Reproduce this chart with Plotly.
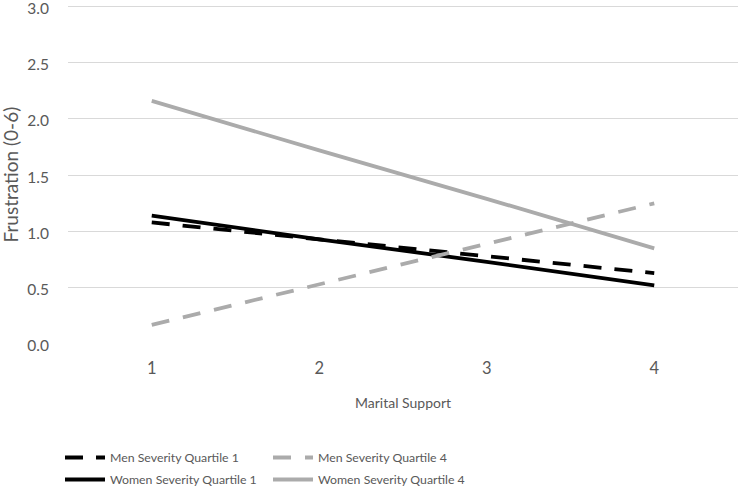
import plotly.graph_objects as go

x_vals = [1, 2, 3, 4]
x_labels = ["1", "2", "3", "4"]
men_q1 = [1.08, 0.93, 0.78, 0.63]
men_q4 = [0.17, 0.53, 0.89, 1.25]
women_q1 = [1.14, 0.93, 0.73, 0.52]
women_q4 = [2.16, 1.72, 1.29, 0.85]
y_ticks = [0.0, 0.5, 1.0, 1.5, 2.0, 2.5, 3.0]
y_tick_labels = ["0.0", "0.5", "1.0", "1.5", "2.0", "2.5", "3.0"]

BLACK = "#000000"
GRAY = "#ABABAB"
TXT = "#595959"
FONT = "Lato, 'Open Sans', sans-serif"

fig = go.Figure()
fig.add_trace(go.Scatter(x=x_vals, y=men_q1, mode="lines", name="Men Severity Quartile 1",
                         line=dict(color=BLACK, width=3.8, dash="18px,13px"), legend="legend",
                         legendgroup="a"))
fig.add_trace(go.Scatter(x=x_vals, y=women_q1, mode="lines", name="Women Severity Quartile 1",
                         line=dict(color=BLACK, width=3.8), legend="legend", legendgroup="b"))
fig.add_trace(go.Scatter(x=x_vals, y=men_q4, mode="lines", name="Men Severity Quartile 4",
                         line=dict(color=GRAY, width=3.8, dash="18px,14px"), legend="legend2",
                         legendgroup="c"))
fig.add_trace(go.Scatter(x=x_vals, y=women_q4, mode="lines", name="Women Severity Quartile 4",
                         line=dict(color=GRAY, width=3.8), legend="legend2", legendgroup="d"))

legend_common = dict(orientation="v", xref="container", yref="container", xanchor="left", yanchor="top",
                     font=dict(family=FONT, size=12.3, color=TXT), bgcolor="rgba(0,0,0,0)",
                     itemwidth=40, tracegroupgap=3)

fig.update_layout(
    width=740, height=486,
    margin=dict(l=68, r=2, t=5, b=142, autoexpand=False),
    paper_bgcolor="white", plot_bgcolor="white",
    font=dict(family=FONT, color=TXT),
    showlegend=True,
    legend=dict(x=60 / 740, y=1 - 443 / 486, **legend_common),
    legend2=dict(x=268 / 740, y=1 - 443 / 486, **legend_common),
    xaxis=dict(range=[0.5, 4.5], tickvals=x_vals, ticktext=x_labels, showgrid=False, zeroline=False,
               showline=False, ticks="outside", ticklen=9, tickcolor="rgba(0,0,0,0)",
               ticklabeloverflow="allow",
               tickfont=dict(family=FONT, size=16.5, color=TXT)),
    yaxis=dict(range=[0, 3.012], tickvals=y_ticks, ticktext=y_tick_labels, showgrid=True,
               gridcolor="#D9D9D9", gridwidth=1, zeroline=False, showline=False, ticks="outside",
               ticklen=15, tickcolor="rgba(0,0,0,0)", ticklabeloverflow="allow", ticklabelshift=2,
               tickfont=dict(family=FONT, size=15.5, color=TXT)),
    annotations=[
        dict(text="Marital Support", xref="paper", yref="paper", x=0.5, y=-(402 - 344) / 339,
             xanchor="center", yanchor="middle", showarrow=False,
             font=dict(family=FONT, size=14, color=TXT)),
        dict(text="Frustration (0-6)", xref="paper", yref="paper", x=-(68 - 10) / 670, y=0.5,
             xanchor="center", yanchor="middle", textangle=-90, showarrow=False,
             font=dict(family=FONT, size=19, color=TXT)),
    ],
)

fig.write_html("out.html", config={"displayModeBar": False},
               post_script="document.body.style.margin='0';")
